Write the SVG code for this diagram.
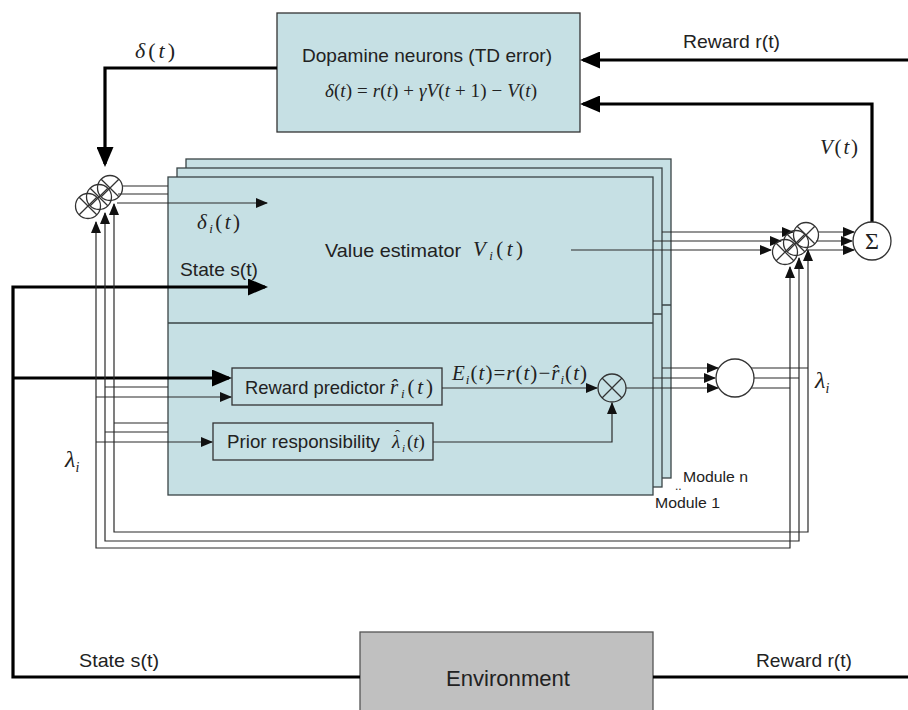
<svg xmlns="http://www.w3.org/2000/svg" width="908" height="710" viewBox="0 0 908 710">
<style>
.mod{fill:#c6e0e4;stroke:#3a4446;stroke-width:1.3}
.box{fill:#c6e0e4;stroke:#333;stroke-width:1.3}
.env{fill:#c0c0c0;stroke:#555;stroke-width:1.3}
.thick{fill:none;stroke:#000;stroke-width:3.2}
.thin{fill:none;stroke:#2a2a2a;stroke-width:1.2}
.op{fill:none;stroke:#333;stroke-width:1.3}
.sans{font-family:"Liberation Sans",Arial,sans-serif;font-size:19px;fill:#222}
.math{font-family:"Liberation Serif","Times New Roman",serif;font-size:21px;fill:#222}
.it{font-style:italic}
.sub{font-size:13px;font-style:italic}
</style>
<defs>
<marker id="ah" markerUnits="userSpaceOnUse" viewBox="0 0 20 17" markerWidth="20" markerHeight="17" refX="17" refY="8.5" orient="auto-start-reverse"><path d="M0,0 L20,8.5 L0,17 z" fill="#000"/></marker>
<marker id="at" markerUnits="userSpaceOnUse" viewBox="0 0 12 10" markerWidth="12" markerHeight="10" refX="11" refY="5" orient="auto-start-reverse"><path d="M0,0 L12,5 L0,10 z" fill="#111"/></marker>
<g id="mul"><circle r="12.5"/><path d="M-8.8,-8.8 L8.8,8.8 M-8.8,8.8 L8.8,-8.8"/></g>
</defs>
<rect width="908" height="710" fill="#fff"/>

<g id="module-n">
<rect class="mod" x="186" y="159" width="485" height="319"/>
<line class="mod" x1="186" y1="305" x2="671" y2="305"/>
</g>
<g id="module-2">
<rect class="mod" x="177" y="168" width="485" height="319"/>
<line class="mod" x1="177" y1="314" x2="662" y2="314"/>
</g>
<g id="module-1">
<rect class="mod" x="168" y="177" width="485" height="318"/>
<line class="mod" x1="168" y1="323" x2="653" y2="323"/>
</g>
<g id="reward-predictor"><rect class="box" x="232" y="368" width="210" height="37"/></g>
<g id="prior-responsibility"><rect class="box" x="213" y="423" width="220" height="37"/></g>
<g id="dopamine"><rect class="box" x="277" y="13" width="303" height="119"/></g>
<g id="environment"><rect class="env" x="360" y="632" width="293" height="82"/></g>

<g id="connectors">
<path class="thick" d="M277,68 H105 V164" marker-end="url(#ah)"/>
<path class="thick" d="M908,60 H583" marker-end="url(#ah)"/>
<path class="thick" d="M872,222 V104 H583" marker-end="url(#ah)"/>
<path class="thick" d="M360,677 H13 V287 H265" marker-end="url(#ah)"/>
<path class="thick" d="M13,378 H229" marker-end="url(#ah)"/>
<path class="thick" d="M653,677 H908"/>

<path class="thin" d="M122,186 H168"/>
<path class="thin" d="M118,194 H168"/>
<path class="thin" d="M117,203 H267" marker-end="url(#at)"/>
<path class="thin" d="M96,222 V548 H790 V267" marker-start="url(#at)" marker-end="url(#at)"/>
<path class="thin" d="M105,213 V541 H799 V258" marker-start="url(#at)" marker-end="url(#at)"/>
<path class="thin" d="M114,204 V532 H808 V250" marker-start="url(#at)" marker-end="url(#at)"/>

<path class="thin" d="M105,387 H168"/>
<path class="thin" d="M96,397 H231" marker-end="url(#at)"/>
<path class="thin" d="M114,423 H168"/>
<path class="thin" d="M105,432 H168"/>
<path class="thin" d="M96,442 H212" marker-end="url(#at)"/>

<path class="thin" d="M442,388 H597" marker-end="url(#at)"/>
<path class="thin" d="M433,442 H612 V403" marker-end="url(#at)"/>

<path class="thin" d="M571,250 H771" marker-end="url(#at)"/>
<path class="thin" d="M653,241 H781" marker-end="url(#at)"/>
<path class="thin" d="M662,232 H793" marker-end="url(#at)"/>
<path class="thin" d="M818,232 H854" marker-end="url(#at)"/>
<path class="thin" d="M816,241 H852" marker-end="url(#at)"/>
<path class="thin" d="M806,250 H854" marker-end="url(#at)"/>

<path class="thin" d="M662,368 H718" marker-end="url(#at)"/>
<path class="thin" d="M653,378 H715" marker-end="url(#at)"/>
<path class="thin" d="M626,388 H718" marker-end="url(#at)"/>
<path class="thin" d="M751,368 H808"/>
<path class="thin" d="M754,378 H799"/>
<path class="thin" d="M751,388 H790"/>
</g>

<g id="left-multipliers" class="op">
<use href="#mul" x="110" y="188"/>
<use href="#mul" x="99" y="197"/>
<use href="#mul" x="88" y="206"/>
</g>
<g id="right-multipliers" class="op">
<use href="#mul" x="806" y="235"/>
<use href="#mul" x="796" y="243"/>
<use href="#mul" x="785" y="252"/>
</g>
<g id="responsibility-multiplier" class="op">
<circle cx="612" cy="388" r="14"/>
<path d="M602,378 L622,398 M602,398 L622,378"/>
</g>
<g id="normalizer"><circle cx="735" cy="378" r="19" fill="#fff" stroke="#333" stroke-width="1.3"/></g>
<g id="sum">
<circle cx="872" cy="241" r="19" fill="#fff" stroke="#333" stroke-width="1.3"/>
<text x="872" y="249" text-anchor="middle" style="font-family:'Liberation Serif',serif;font-size:24px;fill:#222">Σ</text>
</g>

<g id="labels">
<text class="sans" x="302" y="62" textLength="250" lengthAdjust="spacingAndGlyphs">Dopamine neurons (TD error)</text>
<text class="math" x="325" y="97" style="font-size:19px" textLength="212" lengthAdjust="spacing"><tspan class="it">δ</tspan>(<tspan class="it">t</tspan>) = <tspan class="it">r</tspan>(<tspan class="it">t</tspan>) + <tspan class="it">γV</tspan>(<tspan class="it">t</tspan> + 1) − <tspan class="it">V</tspan>(<tspan class="it">t</tspan>)</text>
<text class="sans" x="683" y="48" textLength="97" lengthAdjust="spacingAndGlyphs">Reward r(t)</text>
<text class="math" x="135" y="58" style="font-size:22px" textLength="40" lengthAdjust="spacing"><tspan class="it">δ</tspan>(<tspan class="it">t</tspan>)</text>
<text class="math" x="820" y="154" textLength="38" lengthAdjust="spacing"><tspan class="it">V</tspan>(<tspan class="it">t</tspan>)</text>
<text class="math" x="197" y="229" textLength="43" lengthAdjust="spacing"><tspan class="it">δ</tspan><tspan class="sub" dy="4">i</tspan><tspan dy="-4">(</tspan><tspan class="it">t</tspan>)</text>
<text class="sans" x="180" y="276" textLength="78" lengthAdjust="spacingAndGlyphs">State s(t)</text>
<text class="sans" x="325" y="257" textLength="136" lengthAdjust="spacingAndGlyphs">Value estimator</text>
<text class="math" x="473" y="256" textLength="50" lengthAdjust="spacing"><tspan class="it">V</tspan><tspan class="sub" dy="4">i</tspan><tspan dy="-4">(</tspan><tspan class="it">t</tspan>)</text>
<text class="math" x="452" y="380" textLength="135" lengthAdjust="spacing"><tspan class="it">E</tspan><tspan class="sub" dy="4">i</tspan><tspan dy="-4">(</tspan><tspan class="it">t</tspan>)=<tspan class="it">r</tspan>(<tspan class="it">t</tspan>)−<tspan class="it">r̂</tspan><tspan class="sub" dy="4">i</tspan><tspan dy="-4">(</tspan><tspan class="it">t</tspan>)</text>
<text class="sans" x="245" y="394" textLength="140" lengthAdjust="spacingAndGlyphs">Reward predictor</text>
<text class="math" x="390" y="394" textLength="43" lengthAdjust="spacing"><tspan class="it">r̂</tspan><tspan class="sub" dy="4">i</tspan><tspan dy="-4">(</tspan><tspan class="it">t</tspan>)</text>
<text class="sans" x="227" y="448" textLength="153" lengthAdjust="spacingAndGlyphs">Prior responsibility</text>
<text class="math" x="392" y="448" style="font-size:19px"><tspan class="it">λ</tspan><tspan x="395" y="440" style="font-size:15px">ˆ</tspan><tspan class="sub" x="402" y="452" style="font-size:11px">i</tspan><tspan x="407" y="448">(</tspan><tspan class="it">t</tspan>)</text>
<text class="math" x="815" y="388" style="font-size:24px"><tspan class="it">λ</tspan><tspan class="sub" dy="5" style="font-size:14px">i</tspan></text>
<text class="math" x="65" y="467" style="font-size:24px"><tspan class="it">λ</tspan><tspan class="sub" dy="5" style="font-size:14px">i</tspan></text>
<text class="sans" x="683" y="482" style="font-size:15.5px" textLength="65" lengthAdjust="spacingAndGlyphs">Module n</text>
<text class="sans" x="675" y="490" style="font-size:12px">..</text>
<text class="sans" x="655" y="508" style="font-size:15.5px" textLength="65" lengthAdjust="spacingAndGlyphs">Module 1</text>
<text class="sans" x="79" y="667" textLength="80" lengthAdjust="spacingAndGlyphs">State s(t)</text>
<text class="sans" x="756" y="667" textLength="96" lengthAdjust="spacingAndGlyphs">Reward r(t)</text>
<text class="sans" x="446" y="686" style="font-size:22.5px" textLength="124" lengthAdjust="spacingAndGlyphs">Environment</text>
</g>
</svg>
